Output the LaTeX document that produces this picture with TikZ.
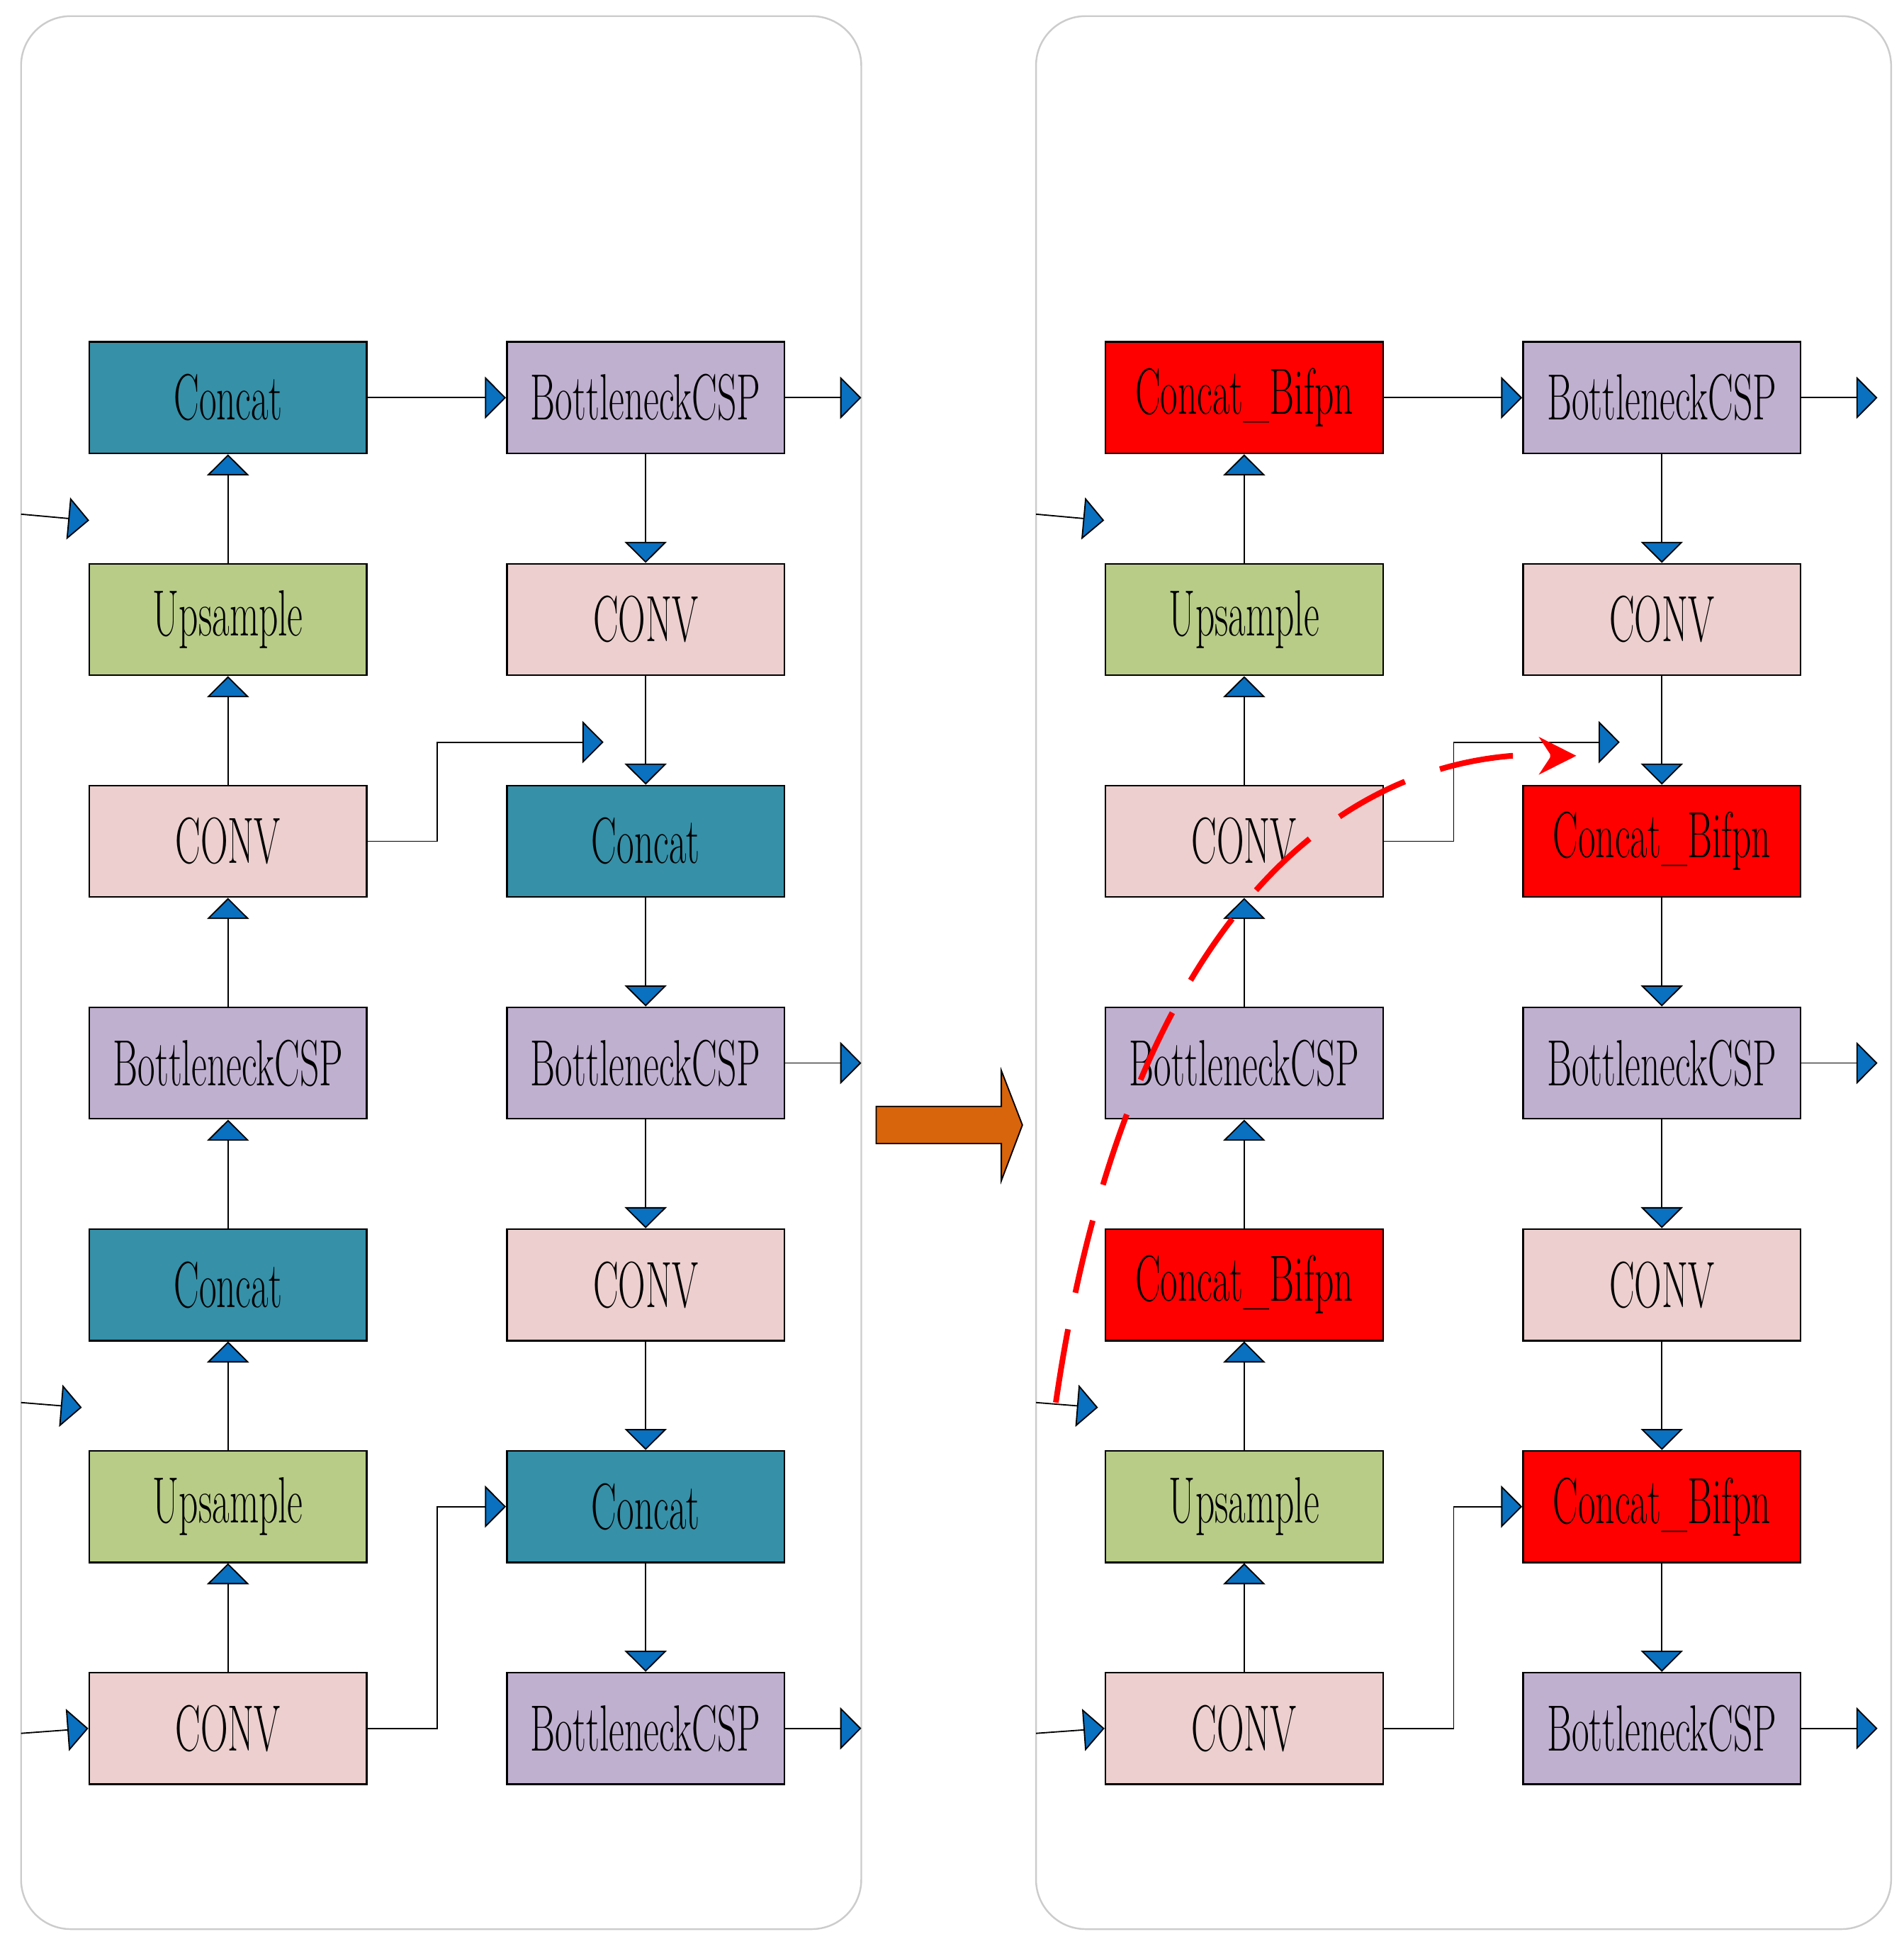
\documentclass[tikz,border=0pt]{standalone}
\usepackage{xcolor}
\usetikzlibrary{arrows.meta,positioning,calc}
\definecolor{tealc}{HTML}{3590A8}
\definecolor{lavc}{HTML}{C0B0D0}
\definecolor{pinkc}{HTML}{ECCFCE}
\definecolor{greenc}{HTML}{B8CC88}
\definecolor{arrblue}{HTML}{0A70C0}
\definecolor{orangec}{HTML}{D8640C}
\newcommand\lbl[1]{\scalebox{0.58}[1]{#1}}
\tikzset{
  box/.style={draw, line width=0.4pt, minimum width=22.4mm, minimum height=9mm, inner sep=0pt, font=\fontsize{15}{15}\selectfont},
  cat/.style={box, fill=tealc},
  csp/.style={box, fill=lavc},
  cnv/.style={box, fill=pinkc},
  ups/.style={box, fill=greenc},
  bif/.style={box, fill=red},
  flow/.style={-{Triangle[length=1.7mm,width=3.4mm,fill=arrblue]}, draw=black, line width=0.3pt},
  panel/.style={draw=gray!40, line width=0.4pt, rounded corners=4mm}
}
\begin{document}
\begin{tikzpicture}[x=0.1mm,y=-0.1mm]
    \useasboundingbox (0,0) rectangle (1536,1565);
    % Panels
    \draw[panel] (17,13) rectangle (695,1557);
    \draw[panel] (836,13) rectangle (1526,1557);

    % Left panel boxes
    \node[cat] (a1) at (184,321) {\lbl{Concat}};
    \node[ups] (a2) at (184,500) {\lbl{Upsample}};
    \node[cnv] (a3) at (184,679) {\lbl{CONV}};
    \node[csp] (a4) at (184,858) {\lbl{BottleneckCSP}};
    \node[cat] (a5) at (184,1037) {\lbl{Concat}};
    \node[ups] (a6) at (184,1216) {\lbl{Upsample}};
    \node[cnv] (a7) at (184,1395) {\lbl{CONV}};
    \node[csp] (b1) at (521,321) {\lbl{BottleneckCSP}};
    \node[cnv] (b2) at (521,500) {\lbl{CONV}};
    \node[cat] (b3) at (521,679) {\lbl{Concat}};
    \node[csp] (b4) at (521,858) {\lbl{BottleneckCSP}};
    \node[cnv] (b5) at (521,1037) {\lbl{CONV}};
    \node[cat] (b6) at (521,1216) {\lbl{Concat}};
    \node[csp] (b7) at (521,1395) {\lbl{BottleneckCSP}};

    % Right panel boxes
    \node[bif] (p1) at (1004,321) {\lbl{Concat\_Bifpn}};
    \node[ups] (p2) at (1004,500) {\lbl{Upsample}};
    \node[cnv] (p3) at (1004,679) {\lbl{CONV}};
    \node[csp] (p4) at (1004,858) {\lbl{BottleneckCSP}};
    \node[bif] (p5) at (1004,1037) {\lbl{Concat\_Bifpn}};
    \node[ups] (p6) at (1004,1216) {\lbl{Upsample}};
    \node[cnv] (p7) at (1004,1395) {\lbl{CONV}};
    \node[csp] (q1) at (1341,321) {\lbl{BottleneckCSP}};
    \node[cnv] (q2) at (1341,500) {\lbl{CONV}};
    \node[bif] (q3) at (1341,679) {\lbl{Concat\_Bifpn}};
    \node[csp] (q4) at (1341,858) {\lbl{BottleneckCSP}};
    \node[cnv] (q5) at (1341,1037) {\lbl{CONV}};
    \node[bif] (q6) at (1341,1216) {\lbl{Concat\_Bifpn}};
    \node[csp] (q7) at (1341,1395) {\lbl{BottleneckCSP}};

    % Vertical flows
    \foreach \s in {a,p} {
        \foreach \i/\j in {7/6,6/5,5/4,4/3,3/2,2/1}
            \draw[flow] (\s\i) -- (\s\j);
    }
    \foreach \s in {b,q} {
        \foreach \i/\j in {1/2,2/3,3/4,4/5,5/6,6/7}
            \draw[flow] (\s\i) -- (\s\j);
    }
    \draw[flow] (a1) -- (b1);
    \draw[flow] (p1) -- (q1);

    % Free ends
    \coordinate (ao1) at (695,321);  \coordinate (ao4) at (695,858);  \coordinate (ao7) at (695,1395);
    \coordinate (qo1) at (1515,321); \coordinate (qo4) at (1515,858); \coordinate (qo7) at (1515,1395);
    \draw[flow] (b1) -- (ao1);
    \draw[flow] (b4) -- (ao4);
    \draw[flow] (b7) -- (ao7);
    \draw[flow] (q1) -- (qo1);
    \draw[flow] (q4) -- (qo4);
    \draw[flow] (q7) -- (qo7);

    % Skip connections
    \coordinate (ae) at (487,599);
    \coordinate (pe) at (1307,599);
    \draw[flow] (a3.east) -- (353,679) -- (353,599) -- (ae);
    \draw[flow] (p3.east) -- (1173,679) -- (1173,599) -- (pe);
    \draw[flow] (a7.east) -- (353,1395) -- (353,1216) -- (b6.west);
    \draw[flow] (p7.east) -- (1173,1395) -- (1173,1216) -- (q6.west);

    % Inputs
    \coordinate (ai1) at (17,415);  \coordinate (ae1) at (72,420);
    \coordinate (ai2) at (17,1132); \coordinate (ae2) at (66,1136);
    \coordinate (ai3) at (17,1399);
    \coordinate (pi1) at (836,415);  \coordinate (pe1) at (891,420);
    \coordinate (pi2) at (836,1132); \coordinate (pe2) at (886,1136);
    \coordinate (pi3) at (836,1399);
    \draw[flow] (ai1) -- (ae1);
    \draw[flow] (ai2) -- (ae2);
    \draw[flow] (ai3) -- (a7.west);
    \draw[flow] (pi1) -- (pe1);
    \draw[flow] (pi2) -- (pe2);
    \draw[flow] (pi3) -- (p7.west);

    % Big arrow between panels
    \fill[orangec] (707,893) -- (808,893) -- (808,864) -- (825,908) -- (808,953) -- (808,923) -- (707,923) -- cycle;
    \draw[line width=0.3pt] (707,893) -- (808,893) -- (808,864) -- (825,908) -- (808,953) -- (808,923) -- (707,923) -- cycle;

    % New cross-scale link
    \coordinate (rs) at (852,1132);
    \coordinate (re) at (1272,610);
    \draw[red, dashed, line width=1.3pt, dash pattern=on 6mm off 3mm, -{Stealth[length=3mm,width=3mm]}] (rs) .. controls (900,800) and (1040,625) .. (1220,610) -- (re);
\end{tikzpicture}
\end{document}
